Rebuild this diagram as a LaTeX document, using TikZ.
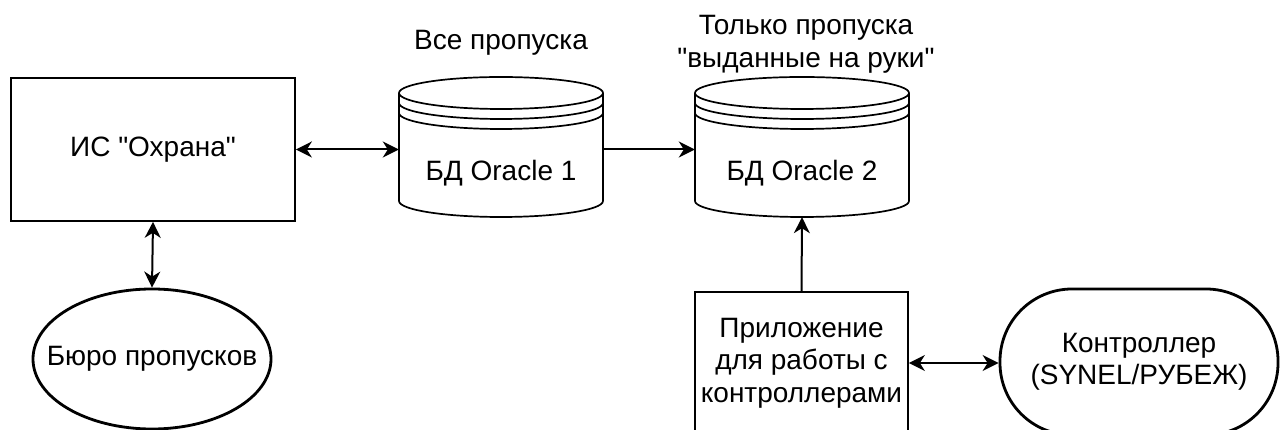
\documentclass[tikz,border=0pt]{standalone}
\usepackage{fontspec}
\setmainfont{Liberation Sans}[Ligatures=TeXOff]
\usetikzlibrary{arrows.meta,shapes.geometric}
\tikzset{
  lbl/.style={font=\fontsize{28}{32.5}\selectfont, align=center, text=black},
  boxnode/.style={draw, line width=1.7pt, rectangle, inner sep=0pt, lbl},
  ovalnode/.style={draw, line width=2.8pt, ellipse, inner sep=0pt},
  dbnode/.style={rectangle, inner sep=0pt, lbl},
  tip/.tip={Stealth[length=16pt,width=16pt,inset=5pt]},
  conn/.style={line width=2pt, tip-tip},
  conn1/.style={line width=2pt, -tip},
  dbline/.style={line width=1.7pt}
}
% #1 = centre x, #2 = half width ; top y = 353, bottom y = 213
\newcommand\dbcyl[2]{%
  \draw[dbline, fill=white] (#1-#2,337) -- (#1-#2,229)
    arc[start angle=180, end angle=360, x radius=#2, y radius=16] -- (#1+#2,337);
  \draw[dbline] (#1,337) ellipse[x radius=#2, y radius=16];
  \draw[dbline] (#1-#2,327) arc[start angle=180, end angle=360, x radius=#2, y radius=16];
  \draw[dbline] (#1-#2,317) arc[start angle=180, end angle=360, x radius=#2, y radius=16];
}
\begin{document}
\begin{tikzpicture}[x=1pt,y=1pt]
\useasboundingbox (0,0) rectangle (1281,430);
% nodes
\node[boxnode, minimum width=284pt, minimum height=143pt] (is) at (153,280.5) {ИС "Охрана"};
\node[ovalnode, minimum width=238pt, minimum height=140pt] (buro) at (152,71) {};
\node[lbl] (burot) at (buro.center) {Бюро пропусков};
\node[dbnode, minimum width=204pt, minimum height=140pt] (db1) at (501,283) {};
\node[dbnode, minimum width=214pt, minimum height=140pt] (db2) at (802,283) {};
\node[lbl] (db1l) at (501,387) {Все пропуска};
\node[lbl] (db2l) at (806,385.5) {Только пропуска\\"выданные на руки"};
\node[boxnode, minimum width=213pt, minimum height=142pt] (app) at (801.5,67) {Приложение\\для работы с\\контроллерами};
\node[lbl, draw, line width=2.8pt, rectangle, rounded corners=72pt, minimum width=278pt, minimum height=146pt, inner sep=0pt] (ctrl) at (1139,68) {Контроллер\\(SYNEL/РУБЕЖ)};
% cylinders
\dbcyl{501}{102}
\dbcyl{802}{107}
\node[lbl] (db1t) at (501,257) {БД Oracle 1};
\node[lbl] (db2t) at (802,257) {БД Oracle 2};
% connectors
\draw[conn] (is.east) -- (is.east -| db1.west);
\draw[conn1] (db1.east |- is.east) -- (db2.west |- is.east);
\draw[conn] (is.south) -- (buro.north);
\draw[conn1] (app.north) -- (db2.south);
\draw[conn] (app.east) -- (app.east -| ctrl.west);
\end{tikzpicture}
\end{document}
